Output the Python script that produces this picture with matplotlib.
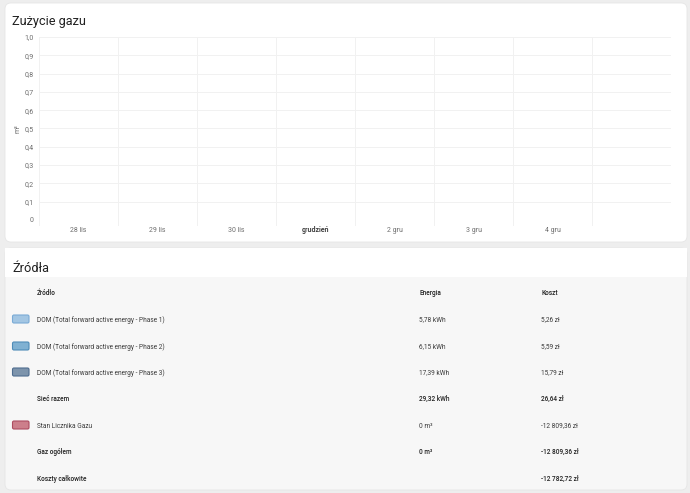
import matplotlib.pyplot as plt
from matplotlib.patches import FancyBboxPatch, Rectangle
import numpy as np

plt.rcParams['font.family'] = ['Roboto', 'DejaVu Sans']

W, H = 690, 493

# --- dane ---
day_labels = ['28 lis', '29 lis', '30 lis', 'grudzień', '2 gru', '3 gru', '4 gru', '']
gas_usage = [0, 0, 0, 0, 0, 0, 0, 0]   # m³ - brak danych
y_ticks = [0, 0.1, 0.2, 0.3, 0.4, 0.5, 0.6, 0.7, 0.8, 0.9, 1.0]

src_names = ['DOM (Total forward active energy - Phase 1)',
             'DOM (Total forward active energy - Phase 2)',
             'DOM (Total forward active energy - Phase 3)',
             'Sieć razem',
             'Stan Licznika Gazu',
             'Gaz ogółem',
             'Koszty całkowite']
src_energy = ['5,78 kWh', '6,15 kWh', '17,39 kWh', '29,32 kWh', '0 m³', '0 m³', '']
src_cost = ['5,26 zł', '5,59 zł', '15,79 zł', '26,64 zł', '-12 809,36 zł', '-12 809,36 zł', '-12 782,72 zł']
src_bold = [False, False, False, True, False, True, True]
swatch_fill = ['#a3c6e3', '#80b1d2', '#7d94ac', None, '#cc7f8b', None, None]
swatch_edge = ['#7aabd6', '#4e8cb8', '#4f6d90', None, '#ad4c60', None, None]

fig = plt.figure(figsize=(W / 100, H / 100), dpi=100)
fig.patch.set_facecolor('#eeeeee')


def px(x, y):
    # piksele (od lewego górnego rogu) -> współrzędne figury
    return x / W, 1 - y / H


# karty
bg = fig.add_axes([0, 0, 1, 1])
bg.set_xlim(0, W)
bg.set_ylim(H, 0)
bg.axis('off')
bg.add_patch(FancyBboxPatch((5, 3), 682, 239, boxstyle='round,pad=0,rounding_size=6',
                            fc='white', ec='#e6e6e6', lw=0.6))
bg.add_patch(FancyBboxPatch((5, 248), 682, 242, boxstyle='round,pad=0,rounding_size=6',
                            fc='#f7f7f7', ec='#e6e6e6', lw=0.6))
bg.add_patch(Rectangle((5.3, 248.3), 681.4, 29, fc='white', ec='none'))

bg.text(12, 20, 'Zużycie gazu', fontsize=9.2, color='#212121', va='center_baseline')
bg.text(12, 267, 'Źródła', fontsize=9.2, color='#212121', va='center_baseline')

# --- wykres ---
x0, y0 = px(39, 220)
x1, y1 = px(671, 37)
ax = fig.add_axes([x0, y0, x1 - x0, y1 - y0])
ax.set_facecolor('none')
n = len(day_labels)
ax.bar(np.arange(n) + 0.5, gas_usage, width=0.6, color='#c97c88')
ax.set_xlim(0, n)
ax.set_ylim(0, 1.0)
ax.set_yticks(y_ticks)
ax.set_yticklabels([('%.1f' % v).replace('.', ',') if v else '0' for v in y_ticks])
ax.set_xticks(np.arange(n) + 0.5)
ax.set_xticklabels(day_labels)
ax.set_xticks(np.arange(n), minor=True)
ax.grid(True, axis='y', color='#f1f1f1', lw=0.7)
ax.grid(True, axis='x', which='minor', color='#f1f1f1', lw=0.7)
for s in ax.spines.values():
    s.set_visible(False)
ax.tick_params(axis='both', which='both', length=0, labelsize=5, labelcolor='#6e6e6e', pad=4)
ax.tick_params(axis='x', pad=8.5)
for lbl in ax.get_xticklabels():
    lbl.set_va('baseline')
    if lbl.get_text() == 'grudzień':
        lbl.set_fontweight('bold')
        lbl.set_color('#404040')
ax.set_ylabel('m³', fontsize=5, color='#6e6e6e', labelpad=2)
# krótkie przedłużenia linii siatki pod osią
for i in range(n):
    ax.plot([i, i], [0, -0.03], color='#f1f1f1', lw=0.7, clip_on=False)
ax.axhline(0, color='#eeeeee', lw=0.7)

# --- tabela źródeł ---
fs = 4.7
hdr_y = 292
for xx, txt in [(37, 'Źródło'), (419, 'Energia'), (541, 'Koszt')]:
    bg.text(xx, hdr_y, txt, fontsize=fs, fontweight='medium', color='#212121', va='center_baseline')

row_y = [319, 346, 372, 398, 425, 451, 478]
for i, yy in enumerate(row_y):
    fw = 'medium' if src_bold[i] else 'normal'
    col = '#212121' if src_bold[i] else '#3a3a3a'
    if swatch_fill[i]:
        bg.add_patch(FancyBboxPatch((12.5, yy - 4), 16.5, 8, boxstyle='round,pad=0,rounding_size=1.5',
                                    fc=swatch_fill[i], ec=swatch_edge[i], lw=0.8))
    bg.text(37, yy, src_names[i], fontsize=fs, fontweight=fw, color=col, va='center_baseline')
    bg.text(419, yy, src_energy[i], fontsize=fs, fontweight=fw, color=col, va='center_baseline')
    bg.text(541, yy, src_cost[i], fontsize=fs, fontweight=fw, color=col, va='center_baseline')

plt.savefig('out.png', dpi=100, facecolor=fig.get_facecolor())
